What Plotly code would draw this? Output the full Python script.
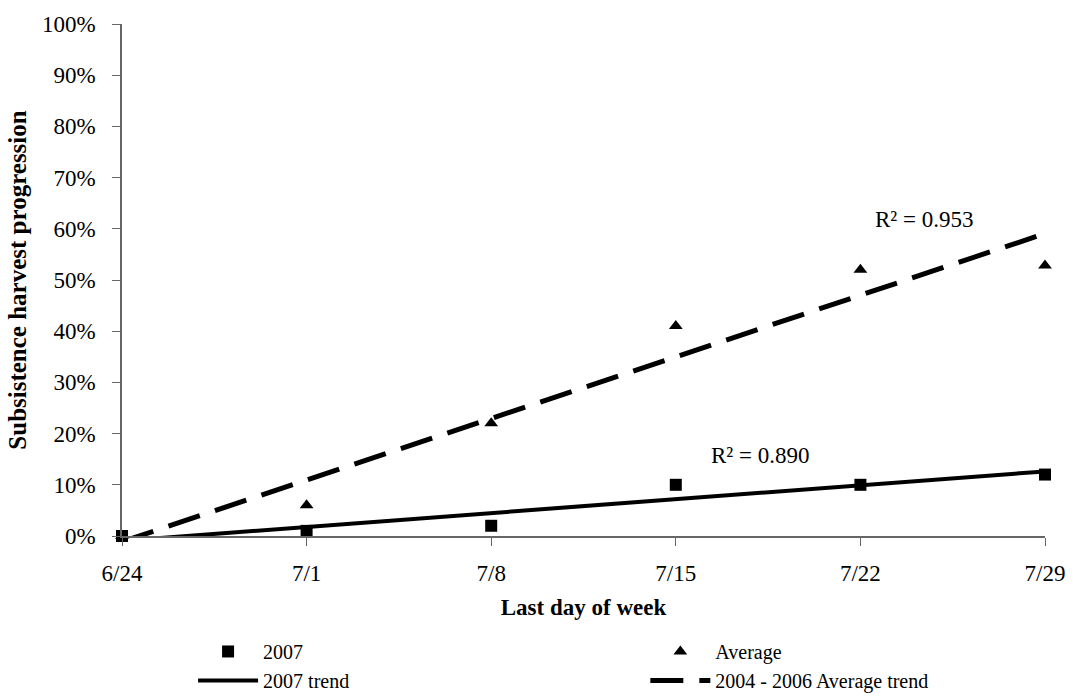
import numpy as np
import plotly.graph_objects as go

# Weekly subsistence harvest progression (fraction of season total)
weeks = ["6/24", "7/1", "7/8", "7/15", "7/22", "7/29"]
harvest_2007 = [0.0, 0.01, 0.02, 0.10, 0.10, 0.12]
harvest_avg = [0.0, 0.06, 0.22, 0.41, 0.52, 0.5285]

x = np.arange(len(weeks))


def linear_trend(xv, yv):
    slope, intercept = np.polyfit(xv, yv, 1)
    fit = slope * xv + intercept
    yv = np.asarray(yv)
    ss_res = np.sum((yv - fit) ** 2)
    ss_tot = np.sum((yv - yv.mean()) ** 2)
    return fit, 1 - ss_res / ss_tot


trend_2007, r2_2007 = linear_trend(x, harvest_2007)
trend_avg, r2_avg = linear_trend(x, harvest_avg)

FONT = "Liberation Serif, Times New Roman, serif"
TXT = 23

fig = go.Figure()
fig.add_trace(go.Scatter(
    x=x, y=harvest_2007, mode="markers", name="2007",
    marker=dict(symbol="square", size=12, color="black"),
    cliponaxis=False, legend="legend",
))
fig.add_trace(go.Scatter(
    x=x, y=harvest_avg, mode="markers", name="Average",
    marker=dict(symbol="triangle-up", size=12, color="black"),
    cliponaxis=False, legend="legend2",
))
fig.add_trace(go.Scatter(
    x=x, y=trend_2007, mode="lines", name="2007 trend",
    line=dict(color="black", width=4),
    legend="legend",
))
fig.add_trace(go.Scatter(
    x=x, y=trend_avg, mode="lines", name="2004 - 2006 Average trend",
    line=dict(color="black", width=5, dash="33px,16px"),
    legend="legend2",
))

fig.add_annotation(x=3.18, y=0.157, xref="x", yref="y", xanchor="left",
                   text=f"R² = {r2_2007:.3f}", showarrow=False,
                   font=dict(family=FONT, size=TXT, color="black"))
fig.add_annotation(x=4.07, y=0.618, xref="x", yref="y", xanchor="left",
                   text=f"R² = {r2_avg:.3f}", showarrow=False,
                   font=dict(family=FONT, size=TXT, color="black"))

legend_style = dict(
    orientation="v", yref="container", yanchor="top", y=0.092,
    xref="paper", xanchor="left",
    font=dict(family=FONT, size=20, color="black"),
    tracegroupgap=0, itemwidth=60, bgcolor="rgba(0,0,0,0)",
)

fig.update_layout(
    width=1083, height=696,
    margin=dict(l=122, r=38, t=20, b=160),
    paper_bgcolor="white", plot_bgcolor="white",
    font=dict(family=FONT, size=TXT, color="black"),
    showlegend=True,
    legend=dict(legend_style, x=0.077),
    legend2=dict(legend_style, x=0.567),
)

fig.update_xaxes(
    range=[0, 5], tickmode="array", tickvals=x, ticktext=weeks,
    showgrid=False, zeroline=False,
    showline=True, linecolor="#666", linewidth=1.5,
    ticks="outside", ticklen=8, tickcolor="#666",
    ticklabelstandoff=8,
    title=dict(text="<b>Last day of week</b>", standoff=14,
               font=dict(family=FONT, size=TXT)),
)
fig.update_yaxes(
    range=[0, 1], tickvals=np.linspace(0, 1, 11), tickformat=".0%",
    showgrid=False, zeroline=False,
    showline=True, linecolor="#666", linewidth=1.5,
    ticks="outside", ticklen=8, tickcolor="#666",
    ticklabelstandoff=12,
    title=dict(text="<b>Subsistence harvest progression</b>", standoff=8,
               font=dict(family=FONT, size=25)),
)

fig.write_html("out.html")
